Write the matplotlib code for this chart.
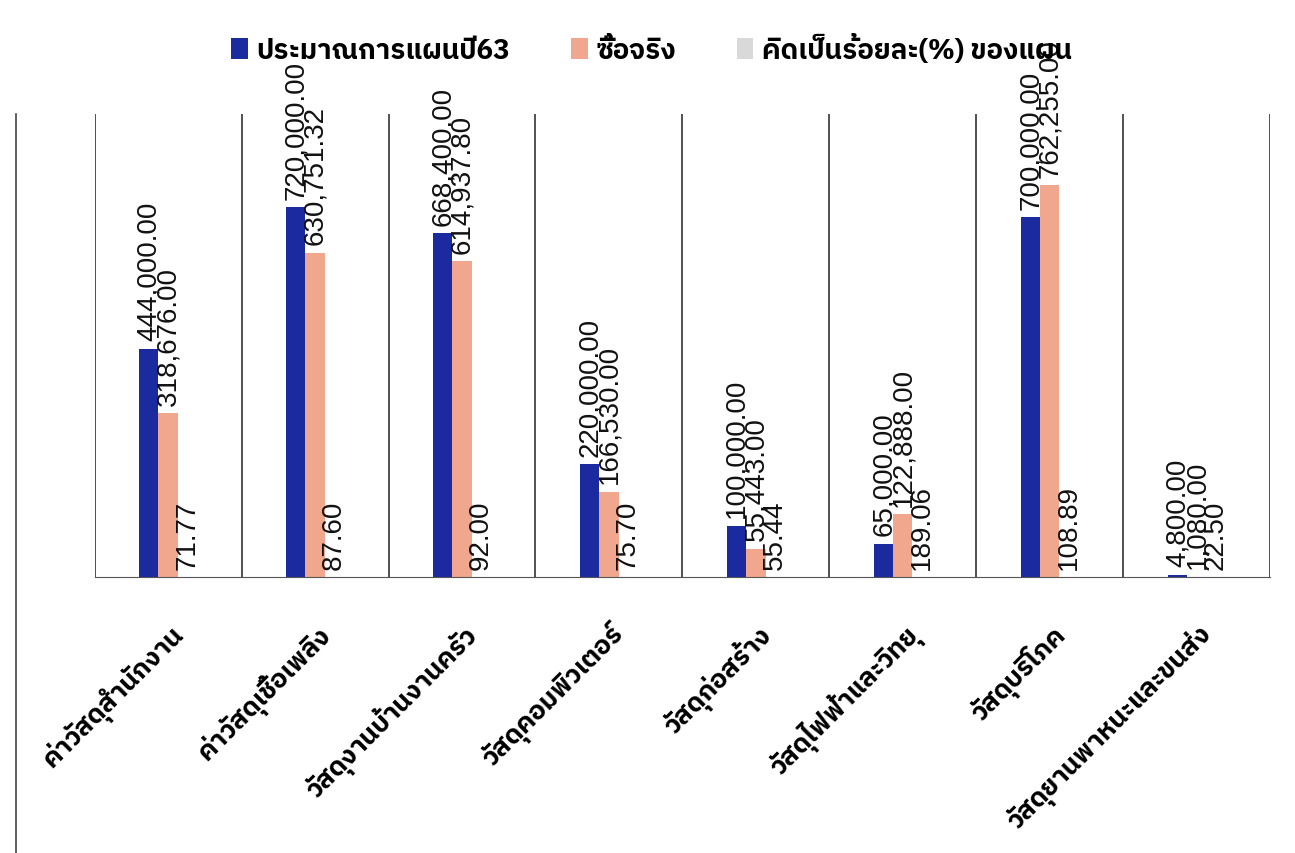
import matplotlib
matplotlib.use("Agg")
import matplotlib.pyplot as plt
import numpy as np
from matplotlib import font_manager
from matplotlib.lines import Line2D

# ---------------- data ----------------
categories = ["ค่าวัสดุสำนักงาน", "ค่าวัสดุเชื้อเพลิง", "วัสดุงานบ้านงานครัว", "วัสดุคอมพิวเตอร์",
              "วัสดุก่อสร้าง", "วัสดุไฟฟ้าและวิทยุ", "วัสดุบริโภค", "วัสดุยานพาหนะและขนส่ง"]
plan = [444000.00, 720000.00, 668400.00, 220000.00, 100000.00, 65000.00, 700000.00, 4800.00]
actual = [318676.00, 630751.32, 614937.80, 166530.00, 55443.00, 122888.00, 762255.00, 1080.00]
percent = [71.77, 87.60, 92.00, 75.70, 55.44, 189.06, 108.89, 22.50]
series_names = ["ประมาณการแผนปี63", "ซื้อจริง", "คิดเป็นร้อยละ(%) ของแผน"]

# ---------------- font with Thai glyphs ----------------
thai_family = None
try:
    from fontTools.ttLib import TTFont
    prefs = []
    for f in font_manager.fontManager.ttflist:
        try:
            kw = {"fontNumber": 0} if f.fname.lower().endswith(".ttc") else {}
            tt = TTFont(f.fname, lazy=True, **kw)
            cmap = tt.getBestCmap()
            if cmap and 0x0E01 in cmap and 0x0E2A in cmap:
                prefs.append(f.name)
        except Exception:
            pass
    if prefs:
        order = [n for n in prefs if "Thai" in n] + prefs
        thai_family = order[0]
except Exception:
    pass
families = ([thai_family] if thai_family else []) + ["DejaVu Sans"]
plt.rcParams["font.family"] = families

# ---------------- figure ----------------
fig = plt.figure(figsize=(12.95, 8.54), dpi=100)
ax = fig.add_axes([0.073, 0.323, 0.908, 0.542])

x = np.arange(len(categories))
w = 0.13
c_plan = "#1b2a9e"
c_act = "#f0a78e"
c_pct = "#d9d9d9"

b1 = ax.bar(x - w, plan, w, color=c_plan, label=series_names[0])
b2 = ax.bar(x, actual, w, color=c_act, label=series_names[1])
b3 = ax.bar(x + w, percent, w, color=c_pct, label=series_names[2])

ax.set_xlim(-0.5, len(categories) - 0.5)
ax.set_ylim(0, 900000)

num_family = ["Liberation Sans", "DejaVu Sans"]
for bars, vals in ((b1, plan), (b2, actual), (b3, percent)):
    for rect, v in zip(bars, vals):
        ax.annotate(f"{v:,.2f}", (rect.get_x() + rect.get_width() / 2, rect.get_height()),
                    xytext=(0, 6), textcoords="offset points", rotation=90,
                    ha="center", va="bottom", fontsize=20, family=num_family, color="#111111")

# vertical separators
for i in range(len(categories) + 1):
    ax.axvline(i - 0.5, color="#333333", lw=1.2)

for s in ("top", "right", "left"):
    ax.spines[s].set_visible(False)
ax.spines["bottom"].set_color("#555555")
ax.set_yticks([])
ax.set_xticks(x)
ax.set_xticklabels(categories, rotation=45, ha="right", rotation_mode="anchor",
                   fontsize=19, fontweight="bold")
ax.tick_params(axis="x", length=0, pad=30)

leg = fig.legend(handles=[b1, b2, b3], labels=series_names, loc="center",
                 bbox_to_anchor=(0.503, 0.941), ncol=3, frameon=False,
                 prop={"size": 20, "weight": "bold"}, handlelength=0.6, handleheight=0.8,
                 handletextpad=0.3, columnspacing=2.2)

# scanned frame line at left
fig.add_artist(Line2D([0.012, 0.012], [0.0, 0.865], transform=fig.transFigure,
                      color="#444444", lw=1.2))

fig.savefig("out.png", dpi=100)
